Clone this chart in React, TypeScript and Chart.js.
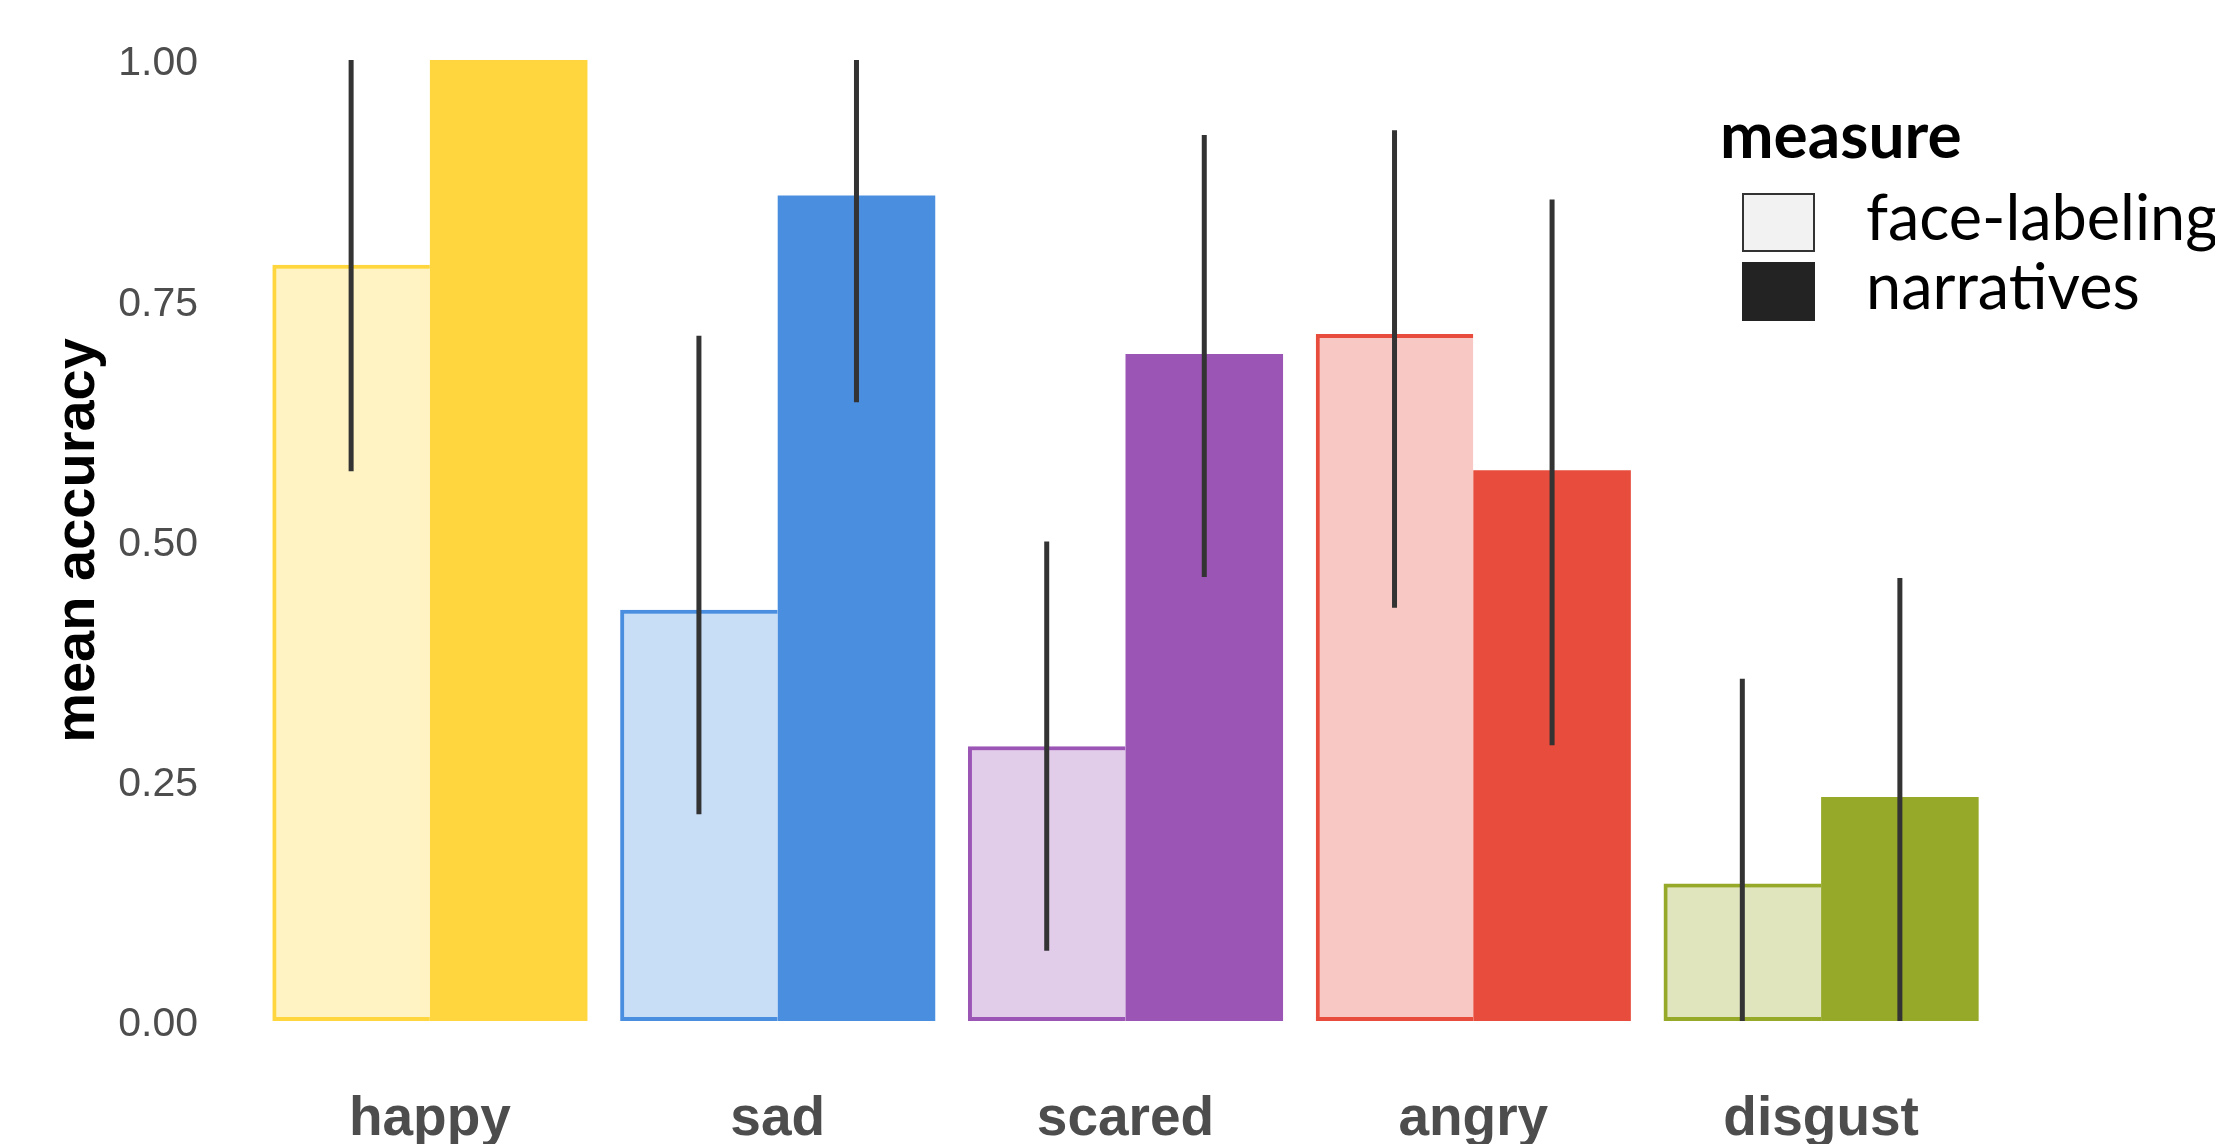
import React, { useEffect, useRef } from "react";
import { Chart, registerables } from "chart.js";

Chart.register(...registerables);

const categories = ["happy", "sad", "scared", "angry", "disgust"];
const faceLabeling = [0.787, 0.428, 0.286, 0.715, 0.143];
const narratives = [1.0, 0.859, 0.694, 0.573, 0.233];
const faceLow = [0.572, 0.215, 0.073, 0.43, 0.0];
const faceHigh = [1.0, 0.713, 0.499, 0.927, 0.356];
const narrLow = [1.0, 0.644, 0.462, 0.287, 0.0];
const narrHigh = [1.0, 1.0, 0.922, 0.855, 0.461];
const yTicks = [0, 0.25, 0.5, 0.75, 1];
const seriesNames = ["face-labeling", "narratives"];
const legendTitle = "measure";
const yTitle = "mean accuracy";
const palette = ["#FFD63D", "#4A8EE0", "#9B55B5", "#E74C3C", "#97A928"];

const SANS = "'Liberation Sans', Arial, Helvetica, sans-serif";
const LEG = "Lato, 'Open Sans', sans-serif";

function rgba(hex: string, a: number) {
  const n = parseInt(hex.slice(1), 16);
  return `rgba(${(n >> 16) & 255},${(n >> 8) & 255},${n & 255},${a})`;
}

const errorBars = {
  id: "errorBars",
  afterDatasetsDraw(chart: any) {
    const ctx = chart.ctx;
    const ys = chart.scales.y;
    [[faceLow, faceHigh], [narrLow, narrHigh]].forEach(([lo, hi], di) => {
      const meta = chart.getDatasetMeta(di);
      meta.data.forEach((el: any, i: number) => {
        if (hi[i] - lo[i] <= 0) return;
        ctx.save();
        ctx.strokeStyle = "#333333";
        ctx.lineWidth = 5;
        ctx.lineCap = "butt";
        ctx.beginPath();
        ctx.moveTo(el.x, ys.getPixelForValue(lo[i]));
        ctx.lineTo(el.x, ys.getPixelForValue(hi[i]));
        ctx.stroke();
        ctx.restore();
      });
    });
  },
};

const customLegend = {
  id: "customLegend",
  afterDraw(chart: any) {
    const ctx = chart.ctx;
    ctx.save();
    ctx.fillStyle = "#000";
    ctx.textAlign = "left";
    ctx.textBaseline = "alphabetic";
    ctx.font = `bold 64px ${LEG}`;
    ctx.fillText(legendTitle, 1720, 158);
    const boxes = [
      { y: 193, fill: "#F2F2F2", stroke: "#333333" },
      { y: 262, fill: "#232323", stroke: "#232323" },
    ];
    boxes.forEach((b, i) => {
      ctx.fillStyle = b.fill;
      ctx.fillRect(1742, b.y, 73, 59);
      ctx.strokeStyle = b.stroke;
      ctx.lineWidth = 2;
      ctx.strokeRect(1743, b.y + 1, 71, 57);
      ctx.fillStyle = "#000";
      ctx.font = `63px ${LEG}`;
      ctx.fillText(seriesNames[i], 1866, b.y + 47);
    });
    ctx.restore();
  },
};

export default function App() {
  const ref = useRef<HTMLCanvasElement | null>(null);
  useEffect(() => {
    document.body.style.margin = "0";
    const canvas = ref.current;
    if (!canvas) return;
    const chart = new Chart(canvas, {
      type: "bar",
      data: {
        labels: categories,
        datasets: [
          {
            label: seriesNames[0],
            data: faceLabeling,
            backgroundColor: palette.map((c) => rgba(c, 0.3)),
            borderColor: palette,
            borderWidth: { top: 4, left: 4, bottom: 4, right: 0 } as any,
            borderSkipped: false,
            categoryPercentage: 0.906,
            barPercentage: 1,
          },
          {
            label: seriesNames[1],
            data: narratives,
            backgroundColor: palette,
            borderWidth: 0,
            categoryPercentage: 0.906,
            barPercentage: 1,
          },
        ],
      },
      options: {
        responsive: false,
        animation: false,
        layout: { padding: { left: 0, top: 12, right: 220, bottom: 0 } },
        plugins: { legend: { display: false }, tooltip: { enabled: false } },
        scales: {
          x: {
            grid: { display: false, drawTicks: false },
            border: { display: false },
            ticks: {
              font: { family: SANS, size: 55, weight: "bold" },
              color: "#4D4D4D",
              padding: 18,
            },
            afterFit: (s: any) => {
              s.height = 75;
              s.paddingLeft = 0;
              s.paddingRight = 0;
            },
          },
          y: {
            min: -0.05,
            max: 1.05,
            grid: { display: false, drawTicks: false },
            border: { display: false },
            afterBuildTicks: (s: any) => {
              s.ticks = yTicks.map((v) => ({ value: v }));
            },
            ticks: {
              callback: (v: any) => Number(v).toFixed(2),
              font: { family: SANS, size: 41 },
              color: "#4D4D4D",
              padding: 58,
              labelOffset: 4,
            },
            title: {
              display: true,
              text: yTitle,
              font: { family: SANS, size: 56, weight: "bold" },
              color: "#000",
              padding: { top: 45, bottom: 0 },
            },
            afterFit: (s: any) => {
              s.width = 256;
              s.paddingTop = 0;
              s.paddingBottom = 0;
            },
          },
        },
      } as any,
      plugins: [errorBars, customLegend],
    });
    return () => chart.destroy();
  }, []);
  return (
    <div style={{ width: 2215, height: 1144 }}>
      <canvas ref={ref} width={2215} height={1144} style={{ display: "block" }} />
    </div>
  );
}
